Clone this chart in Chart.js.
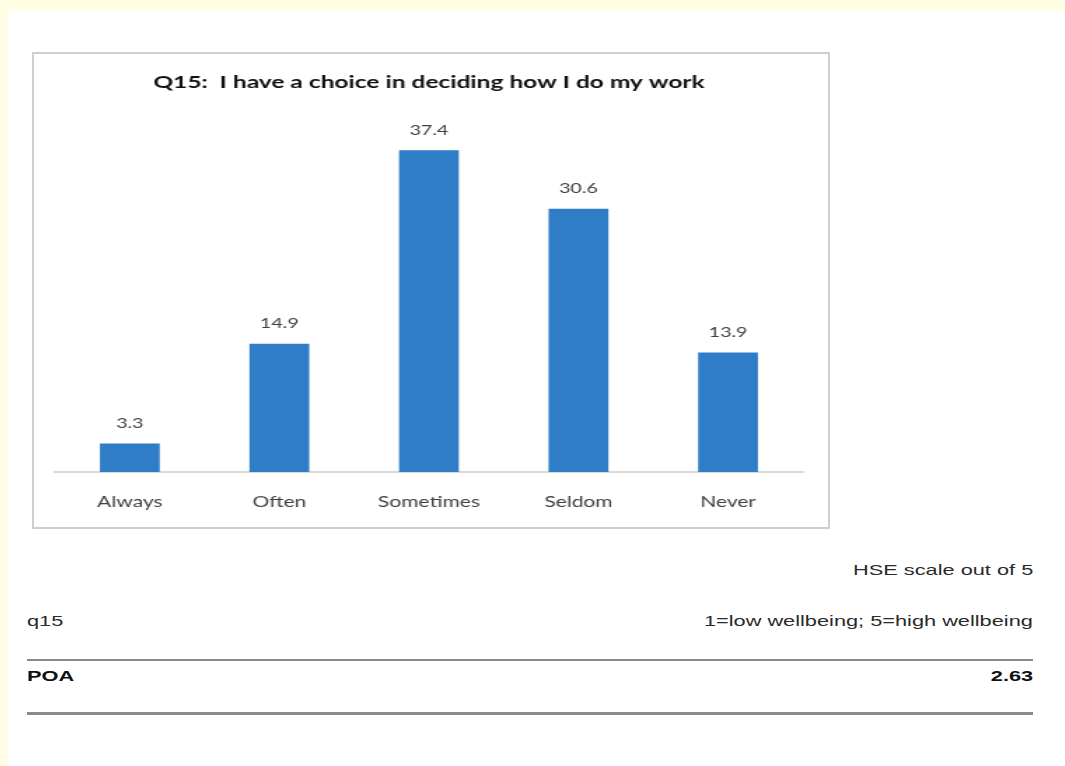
<!DOCTYPE html>
<html>
<head>
<meta charset="utf-8">
<script src="https://cdn.jsdelivr.net/npm/chart.js@4/dist/chart.umd.min.js"></script>
<style>
    html, body { margin: 0; padding: 0; }
    body {
        width: 1065px; height: 766px; position: relative; overflow: hidden;
        background: #fffde3;
        font-family: "Liberation Sans", Arial, sans-serif;
    }
    .page {
        position: absolute; left: 8px; top: 11px; right: 0; bottom: 0;
        background: #ffffff;
    }
    .chartBox {
        position: absolute; left: 32px; top: 52px; width: 794px; height: 473px;
        border: 2px solid #cfcfcf; background: #fff; overflow: hidden;
    }
    /* gambar asli agak melebar ke samping, jadi kanvas ditarik horizontal */
    .stretch {
        width: 567px; height: 473px;
        transform: scaleX(1.4004); transform-origin: 0 0;
    }
    .txt { position: absolute; font-size: 15px; color: #2a2a2a; white-space: nowrap; }
    .left { left: 27px; transform: scaleX(1.45); transform-origin: left center; }
    .right { right: 32px; transform: scaleX(1.45); transform-origin: right center; }
    .rule { position: absolute; left: 27px; width: 1006px; background: #8a8a8a; }
</style>
</head>
<body>
<div class="page"></div>
<div class="chartBox"><div class="stretch"><canvas id="q15Chart" width="567" height="473"></canvas></div></div>

<div class="txt right" style="top:561px;">HSE scale out of 5</div>
<div class="txt left" style="top:612px;">q15</div>
<div class="txt right" style="top:612px;">1=low wellbeing; 5=high wellbeing</div>
<div class="rule" style="top:659px; height:2px;"></div>
<div class="txt left" style="top:667px; font-weight:bold; color:#111;">POA</div>
<div class="txt right" style="top:667px; font-weight:bold; color:#111;">2.63</div>
<div class="rule" style="top:712px; height:3px;"></div>

<script>
// data grafik
const categories = ['Always', 'Often', 'Sometimes', 'Seldom', 'Never'];
const percentValues = [3.3, 14.9, 37.4, 30.6, 13.9];
const chartTitle = 'Q15:  I have a choice in deciding how I do my work';

// plugin kecil untuk label angka di atas batang
const valueLabels = {
    id: 'valueLabels',
    afterDatasetsDraw(chart) {
        const ctx = chart.ctx;
        const meta = chart.getDatasetMeta(0);
        ctx.save();
        ctx.font = '14px Lato, "Open Sans", sans-serif';
        ctx.fillStyle = '#404040';
        ctx.textAlign = 'center';
        ctx.textBaseline = 'bottom';
        meta.data.forEach((bar, i) => {
            ctx.fillText(percentValues[i].toFixed(1), bar.x, bar.y - 13);
        });
        ctx.restore();
    }
};

const ctx = document.getElementById('q15Chart').getContext('2d');
new Chart(ctx, {
    type: 'bar',
    data: {
        labels: categories,
        datasets: [{
            data: percentValues,
            backgroundColor: '#2e7dc6',
            barPercentage: 0.4,
            categoryPercentage: 1.0
        }]
    },
    options: {
        responsive: false,
        animation: false,
        layout: { padding: { left: 15, right: 18, top: 18, bottom: 3 } },
        plugins: {
            legend: { display: false },
            tooltip: { enabled: false },
            title: {
                display: true,
                text: chartTitle,
                color: '#111',
                font: { family: 'Lato, "Open Sans", sans-serif', size: 17.5, weight: 'bold' },
                padding: { top: 0, bottom: 35 }
            }
        },
        scales: {
            y: { display: false, min: 0, max: 40 },
            x: {
                grid: { display: false },
                border: { color: '#d9d9d9', width: 2 },
                ticks: {
                    color: '#404040',
                    padding: 13,
                    font: { family: 'Lato, "Open Sans", sans-serif', size: 15 }
                }
            }
        }
    },
    plugins: [valueLabels]
});
</script>
</body>
</html>
